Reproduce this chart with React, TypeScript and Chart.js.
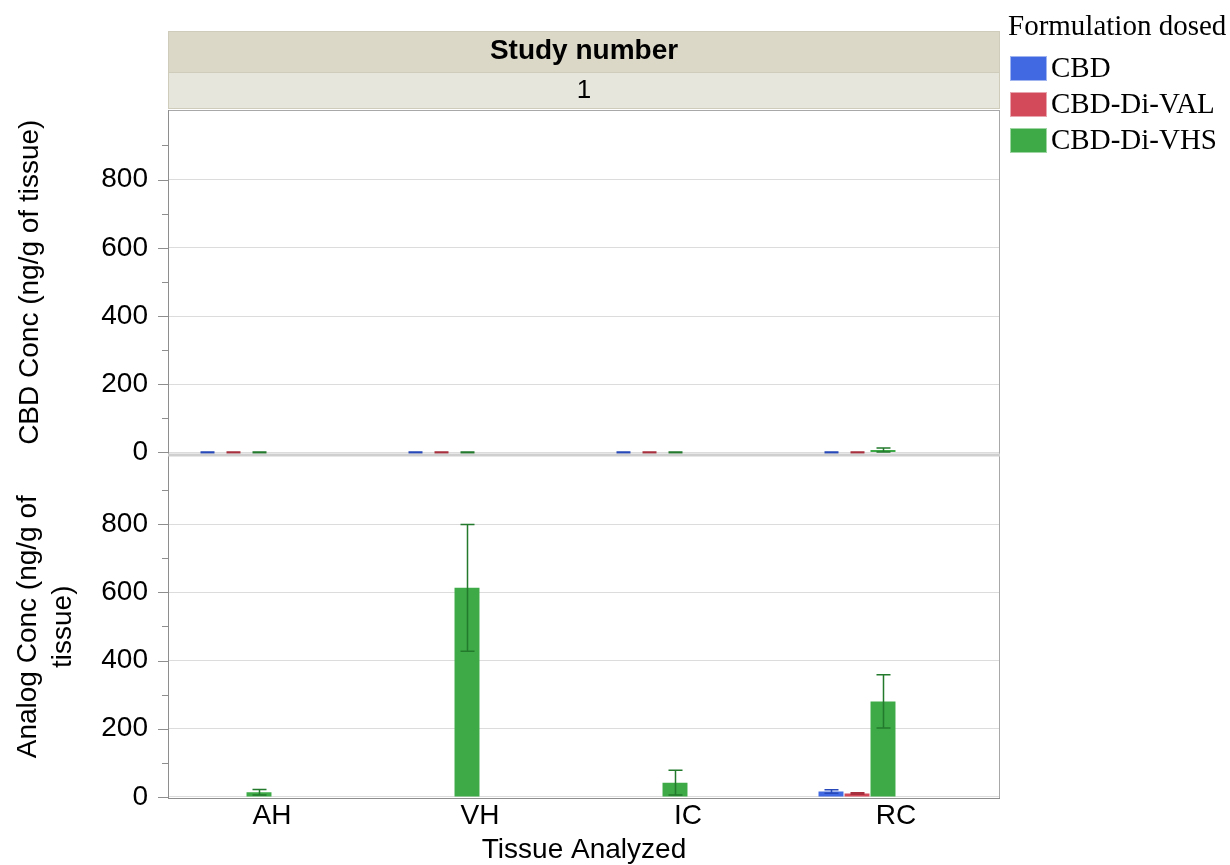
import React, { useEffect, useRef } from "react";
import { Chart, registerables } from "chart.js";

Chart.register(...registerables);

// Tissues on the x axis and the dosed formulations
const tissues = ["AH", "VH", "IC", "RC"];
const formulations = ["CBD", "CBD-Di-VAL", "CBD-Di-VHS"];
const fillColors = ["#4169E1", "#D34B5A", "#3DAA47"];
const errColors = ["#2648B8", "#A8303E", "#237A2D"];

// CBD Conc (ng/g of tissue): means and error half-widths per tissue
const cbdMeanCBD = [0, 0, 0, 0];
const cbdMeanVAL = [0, 0, 0, 0];
const cbdMeanVHS = [0, 0, 0, 7];
const cbdErrCBD = [0, 0, 0, 0];
const cbdErrVAL = [0, 0, 0, 0];
const cbdErrVHS = [0, 0, 0, 6];

// Analog Conc (ng/g of tissue): means and error half-widths per tissue
const anaMeanCBD = [null, null, null, 16];
const anaMeanVAL = [null, null, null, 10];
const anaMeanVHS = [14, 613, 42, 280];
const anaErrCBD = [null, null, null, 5];
const anaErrVAL = [null, null, null, 2];
const anaErrVHS = [8, 186, 36, 78];

// Value axis ticks shared by both panels
const yMajorTicks = [0, 200, 400, 600, 800];
const yMinorTicks = [100, 300, 500, 700, 900];

const SANS = "'Liberation Sans', Arial, Helvetica, sans-serif";
const SERIF = "'Liberation Serif', 'Times New Roman', Times, serif";

const errorBarsPlugin = {
  id: "errorBars",
  afterDatasetsDraw(chart: any) {
    const ctx = chart.ctx;
    chart.data.datasets.forEach((ds: any, di: number) => {
      if (!ds.errors) return;
      const meta = chart.getDatasetMeta(di);
      const scale = chart.scales[meta.yAxisID];
      meta.data.forEach((bar: any, i: number) => {
        const mean = ds.data[i];
        const err = ds.errors[i];
        if (mean === null || mean === undefined || err === null || err === undefined) return;
        const x = Math.round(bar.x) + 0.5;
        const yHi = scale.getPixelForValue(mean + err);
        const yLo = scale.getPixelForValue(mean - err);
        ctx.save();
        ctx.strokeStyle = ds.errColor;
        ctx.lineWidth = err === 0 ? 2.5 : 1.5;
        ctx.beginPath();
        ctx.moveTo(x, yHi);
        ctx.lineTo(x, yLo);
        ctx.moveTo(x - 7, yHi);
        ctx.lineTo(x + 7, yHi);
        ctx.moveTo(x - 7, yLo);
        ctx.lineTo(x + 7, yLo);
        ctx.stroke();
        ctx.restore();
      });
    });
  },
};

const decorPlugin = {
  id: "decor",
  afterDraw(chart: any) {
    const ctx = chart.ctx;
    const area = chart.chartArea;
    const top = chart.scales.yTop;
    const bot = chart.scales.yBot;
    const left = area.left;
    const width = area.right - area.left;
    const midX = left + width / 2;

    ctx.save();
    // Header strips above the plot
    ctx.fillStyle = "#DBD8C8";
    ctx.fillRect(left, 31, width, 41);
    ctx.fillStyle = "#E7E6DD";
    ctx.fillRect(left, 72, width, 37);
    ctx.strokeStyle = "#CFCCBC";
    ctx.lineWidth = 1;
    ctx.strokeRect(left + 0.5, 31.5, width - 1, 77);
    ctx.beginPath();
    ctx.moveTo(left, 72.5);
    ctx.lineTo(left + width, 72.5);
    ctx.stroke();

    ctx.fillStyle = "#000";
    ctx.textAlign = "center";
    ctx.textBaseline = "middle";
    ctx.font = `bold 28px ${SANS}`;
    ctx.fillText("Study number", midX, 51);
    ctx.font = `26px ${SANS}`;
    ctx.fillText("1", midX, 91);

    // Panel frame
    ctx.strokeStyle = "#A8A8A8";
    ctx.lineWidth = 1;
    ctx.strokeRect(left + 0.5, area.top + 0.5, width - 1, area.bottom - area.top - 1);
    ctx.strokeStyle = "#8E8E8E";
    ctx.beginPath();
    ctx.moveTo(left + 0.5, area.top);
    ctx.lineTo(left + 0.5, area.bottom);
    ctx.moveTo(left, area.bottom - 0.5);
    ctx.lineTo(area.right, area.bottom - 0.5);
    ctx.stroke();

    // Divider between the two panels
    ctx.fillStyle = "#CFCFCF";
    ctx.fillRect(left, top.bottom - 1, width, 3);

    // Major and minor tick marks on the value axes
    ctx.strokeStyle = "#8E8E8E";
    ctx.lineWidth = 1;
    ctx.beginPath();
    [top, bot].forEach((s: any) => {
      yMajorTicks.forEach((v) => {
        const y = Math.round(s.getPixelForValue(v)) + 0.5;
        ctx.moveTo(left - 10, y);
        ctx.lineTo(left, y);
      });
      yMinorTicks.forEach((v) => {
        const y = Math.round(s.getPixelForValue(v)) + 0.5;
        ctx.moveTo(left - 6, y);
        ctx.lineTo(left, y);
      });
    });
    ctx.stroke();

    // Value axis titles
    ctx.fillStyle = "#000";
    ctx.font = `28px ${SANS}`;
    ctx.textAlign = "center";
    ctx.textBaseline = "middle";
    ctx.save();
    ctx.translate(30, (top.top + top.bottom) / 2);
    ctx.rotate(-Math.PI / 2);
    ctx.fillText("CBD Conc (ng/g of tissue)", 0, 0);
    ctx.restore();
    ctx.save();
    ctx.translate(28, (bot.top + bot.bottom) / 2);
    ctx.rotate(-Math.PI / 2);
    ctx.fillText("Analog Conc (ng/g of", 0, 0);
    ctx.fillText("tissue)", 0, 35);
    ctx.restore();

    // Category axis title
    ctx.fillText("Tissue Analyzed", midX, 850);

    // Legend
    ctx.textAlign = "left";
    ctx.font = `29px ${SERIF}`;
    ctx.fillText("Formulation dosed", 1008, 27);
    formulations.forEach((name, i) => {
      const y = 56 + i * 36;
      ctx.fillStyle = fillColors[i];
      ctx.fillRect(1010, y, 37, 25);
      ctx.strokeStyle = "rgba(255,255,255,0.5)";
      ctx.strokeRect(1010.5, y + 0.5, 36, 24);
      ctx.fillStyle = "#000";
      ctx.fillText(name, 1051, y + 13);
    });
    ctx.restore();
  },
};

function makeBars(
  label: string,
  data: (number | null)[],
  errors: (number | null)[],
  idx: number,
  axis: string
) {
  return {
    label,
    data,
    errors,
    errColor: errColors[idx],
    backgroundColor: fillColors[idx],
    borderWidth: 0,
    yAxisID: axis,
    stack: "s" + idx,
  };
}

function valueAxis(): any {
  return {
    type: "linear",
    position: "left",
    stack: "panels",
    stackWeight: 1,
    stacked: false,
    min: -6,
    max: 1004,
    afterBuildTicks: (s: any) => {
      s.ticks = yMajorTicks.map((value) => ({ value }));
    },
    afterFit: (s: any) => {
      s.width = 168;
    },
    grid: { color: "#DCDCDC", lineWidth: 1, drawTicks: false },
    border: { display: false },
    ticks: {
      font: { family: SANS, size: 28 },
      color: "#000",
      padding: 20,
    },
  };
}

export default function App() {
  const canvasRef = useRef<HTMLCanvasElement>(null);

  useEffect(() => {
    if (!canvasRef.current) return;
    const empty = tissues.map(() => null);
    const chart = new Chart(canvasRef.current, {
      type: "bar",
      data: {
        labels: tissues,
        datasets: [
          makeBars(formulations[0], cbdMeanCBD, cbdErrCBD, 0, "yTop"),
          makeBars(formulations[1], cbdMeanVAL, cbdErrVAL, 1, "yTop"),
          makeBars(formulations[2], cbdMeanVHS, cbdErrVHS, 2, "yTop"),
          makeBars(formulations[0], anaMeanCBD, anaErrCBD, 0, "yBot"),
          makeBars(formulations[1], anaMeanVAL, anaErrVAL, 1, "yBot"),
          makeBars(formulations[2], anaMeanVHS, anaErrVHS, 2, "yBot"),
          // unused overlay levels keep their slots in each group
          { label: "", data: empty, yAxisID: "yBot", stack: "s3" },
          { label: "", data: empty, yAxisID: "yBot", stack: "s4" },
          { label: "", data: empty, yAxisID: "yBot", stack: "s5" },
        ] as any,
      },
      options: {
        animation: false,
        responsive: false,
        devicePixelRatio: 1,
        layout: { padding: { top: 110, right: 230, left: 0, bottom: 0 } },
        datasets: {
          bar: { categoryPercentage: 0.75, barPercentage: 0.96 },
        },
        plugins: {
          legend: { display: false },
          tooltip: { enabled: false },
          title: { display: false },
        },
        scales: {
          x: {
            type: "category",
            grid: { display: false, drawTicks: false },
            border: { display: false },
            ticks: {
              font: { family: SANS, size: 28 },
              color: "#000",
              padding: 0,
            },
            afterFit: (s: any) => {
              s.height = 66;
            },
          },
          yBot: valueAxis(),
          yTop: valueAxis(),
        },
      } as any,
      plugins: [errorBarsPlugin, decorPlugin],
    });
    return () => chart.destroy();
  }, []);

  return (
    <div style={{ position: "absolute", left: 0, top: 0, width: 1230, height: 865, background: "#fff" }}>
      <canvas ref={canvasRef} width={1230} height={865} style={{ display: "block" }} />
    </div>
  );
}
